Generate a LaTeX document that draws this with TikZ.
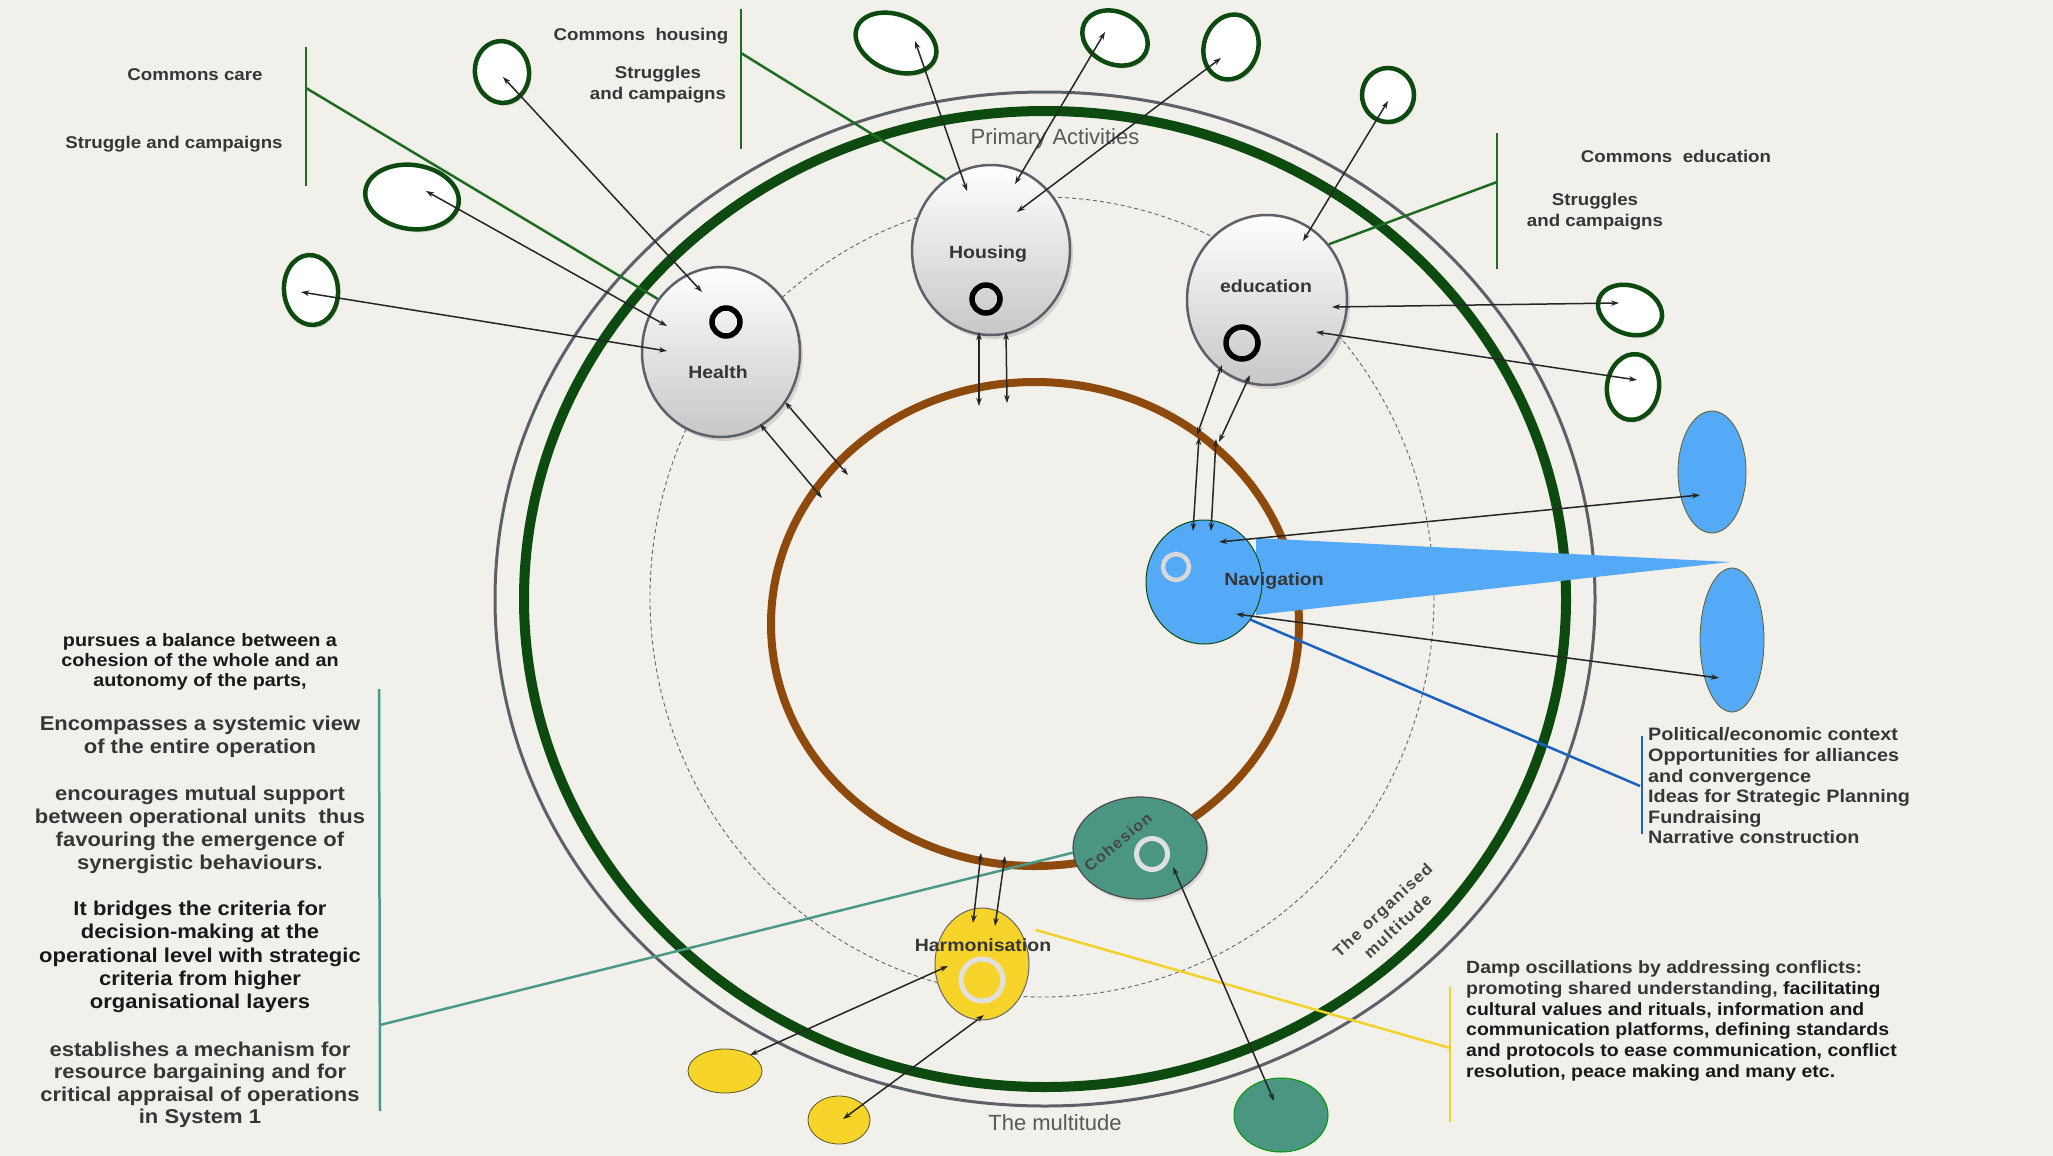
\documentclass[tikz,border=0pt]{standalone}
\usepackage{fontspec}
\setmainfont{Liberation Sans}[FakeStretch=1.1]
\newfontfamily\thinfont{Liberation Sans}
\newfontfamily\spacedfont{Liberation Sans}[FakeStretch=1.05, LetterSpace=8]
\usetikzlibrary{shapes.geometric,arrows.meta,shadows}

\definecolor{paper}{HTML}{F2F0EA}
\definecolor{ringgray}{HTML}{5C6069}
\definecolor{ringgreen}{HTML}{0C4A10}
\definecolor{corebrown}{HTML}{8E4A0C}
\definecolor{commonsgreen}{HTML}{1E6B22}
\definecolor{navblue}{HTML}{55AAF7}
\definecolor{listblue}{HTML}{1A62C0}
\definecolor{cohteal}{HTML}{4A9683}
\definecolor{harmyellow}{HTML}{F6D42A}
\definecolor{linkteal}{HTML}{4A9A88}
\definecolor{linkyellow}{HTML}{F2D22A}
\definecolor{inkgray}{HTML}{363636}

\tikzset{
  bigring/.style={ellipse, inner sep=0pt, outer sep=0pt},
  unit/.style={ellipse, draw=ringgray, line width=2.5pt, top color=white, bottom color=black!22,
    minimum width=158pt, minimum height=170pt, inner sep=0pt,
    drop shadow={opacity=0.25, shadow xshift=3pt, shadow yshift=-4pt}},
  commons/.style={ellipse, draw=ringgreen, line width=4.5pt, fill=white, inner sep=0pt,
    drop shadow={opacity=0.2, shadow xshift=2pt, shadow yshift=-3pt}},
  navsat/.style={ellipse, draw=olive!60!black, line width=0.8pt, fill=navblue, inner sep=0pt},
  harmsat/.style={ellipse, draw=olive!50!black, line width=0.8pt, fill=harmyellow, inner sep=0pt},
  hole/.style={circle, line width=5.5pt, inner sep=0pt},
  unitlabel/.style={font=\bfseries\fontsize{17.7}{20}\selectfont, text=inkgray, inner sep=0pt},
  notetext/.style={font=\bfseries\fontsize{17}{21}\selectfont, text=inkgray, align=center, inner sep=0pt},
  blocktext/.style={font=\bfseries\fontsize{20}{22.5}\selectfont, text=inkgray, align=center, inner sep=0pt},
  thintext/.style={font=\thinfont\fontsize{22}{24}\selectfont, text=black!65, inner sep=0pt},
  link/.style={<->, >={Stealth[length=8pt, width=5.5pt]}, line width=1.5pt, draw=black!85},
  commonsbar/.style={draw=commonsgreen, line width=2.5pt},
}

\begin{document}
\begin{tikzpicture}[x=1pt, y=-1pt]
\useasboundingbox (0,0) rectangle (2053,1156);
\fill[paper] (0,0) rectangle (2053,1156);

% the rings
\node[bigring, draw=ringgray, line width=3pt, minimum width=1100pt, minimum height=1014pt] (multitude) at (1045,599) {};
\node[bigring, draw=ringgreen, line width=10pt, minimum width=1042pt, minimum height=976pt] (organisedring) at (1045,599) {};
\node[bigring, draw=black!60, line width=0.9pt, dash pattern=on 4pt off 3pt, minimum width=784pt, minimum height=800pt] (primaryring) at (1042,597) {};
\node[bigring, draw=corebrown, line width=8pt, minimum width=528pt, minimum height=484pt] (core) at (1035,624) {};

% beam of navigation
\fill[navblue] (1256,538) -- (1730,562) -- (1256,615) -- cycle;

% brackets and leaders
\coordinate (careTop) at (306,47);
\coordinate (careBot) at (306,186);
\coordinate (careKnee) at (306,88);
\coordinate (houseTop) at (741,9);
\coordinate (houseBot) at (741,149);
\coordinate (houseKnee) at (741,53);
\coordinate (eduTop) at (1497,133);
\coordinate (eduBot) at (1497,269);
\coordinate (eduKnee) at (1497,182);
\coordinate (navTop) at (1642,736);
\coordinate (navBot) at (1642,834);
\coordinate (navKnee) at (1640,786);
\coordinate (cohTop) at (379,689);
\coordinate (cohBot) at (380,1111);
\coordinate (cohKnee) at (380,1025);
\coordinate (harmTop) at (1450,987);
\coordinate (harmBot) at (1450,1122);
\coordinate (harmKnee) at (1450,1048);
\coordinate (harmoLink) at (1036,930);

% primary activities
\node[unit] (health) at (721,352) {};
\node[unit] (housing) at (991,250) {};
\node[unit, minimum width=160pt] (education) at (1267,300) {};
\node[hole, draw=black, minimum size=28pt] (healthhole) at (726,322) {};
\node[hole, draw=black, minimum size=28pt] (housinghole) at (986,299) {};
\node[hole, draw=black, minimum size=32pt] (educationhole) at (1242,343) {};

\draw[commonsbar] (careTop) -- (careBot);
\draw[commonsbar] (careKnee) -- (health.140);
\draw[commonsbar] (houseTop) -- (houseBot);
\draw[commonsbar] (houseKnee) -- (housing.123);
\draw[commonsbar] (eduTop) -- (eduBot);
\draw[commonsbar] (eduKnee) -- (education.42);

% navigation, cohesion, harmonisation
\node[ellipse, fill=navblue, draw=ringgreen, line width=1pt, minimum width=116pt, minimum height=124pt, inner sep=0pt] (navigation) at (1204,582) {};
\node[ellipse, fill=cohteal, draw=black!70, line width=1.2pt, minimum width=134pt, minimum height=102pt, inner sep=0pt,
  drop shadow={opacity=0.2, shadow xshift=2pt, shadow yshift=-3pt}] (cohesion) at (1140,848) {};
\node[ellipse, fill=harmyellow, draw=black!60, line width=1pt, minimum width=94pt, minimum height=112pt, inner sep=0pt] (harmonisation) at (982,964) {};
\node[hole, draw=black!15, line width=4.5pt, minimum size=26pt] (navigationhole) at (1176,567) {};
\node[hole, draw=black!12, line width=5pt, minimum size=31pt] (cohesionhole) at (1152,854) {};
\node[hole, draw=black!12, line width=5pt, minimum size=42pt] (harmonisationhole) at (982,980) {};

\draw[draw=listblue, line width=2.5pt] (navTop) -- (navBot);
\draw[draw=listblue, line width=2.5pt] (navKnee) -- (navigation.-39);
\draw[draw=linkteal, line width=2.5pt] (cohTop) -- (cohBot);
\draw[draw=linkteal, line width=2.5pt] (cohKnee) -- (cohesion.184);
\draw[draw=linkyellow, line width=2.5pt] (harmTop) -- (harmBot);
\draw[draw=linkyellow, line width=2.5pt] (harmKnee) -- (harmoLink);

% satellites
\node[commons, minimum width=54pt, minimum height=62pt, rotate=8] (careA) at (502,72) {};
\node[commons, minimum width=94pt, minimum height=64pt, rotate=-8] (careB) at (412,197) {};
\node[commons, minimum width=54pt, minimum height=70pt, rotate=5] (careC) at (311,290) {};
\node[commons, minimum width=84pt, minimum height=56pt, rotate=-22] (housingA) at (896,43) {};
\node[commons, minimum width=68pt, minimum height=52pt, rotate=-25] (housingB) at (1115,38) {};
\node[commons, minimum width=54pt, minimum height=66pt, rotate=-18] (housingC) at (1231,47) {};
\node[commons, minimum width=52pt, minimum height=54pt] (educationA) at (1388,95) {};
\node[commons, minimum width=66pt, minimum height=48pt, rotate=-20] (educationB) at (1630,310) {};
\node[commons, minimum width=52pt, minimum height=66pt, rotate=-8] (educationC) at (1633,387) {};
\node[navsat, minimum width=68pt, minimum height=122pt] (navUp) at (1712,472) {};
\node[navsat, minimum width=64pt, minimum height=144pt] (navDown) at (1732,640) {};
\node[harmsat, minimum width=74pt, minimum height=44pt] (harmA) at (725,1071) {};
\node[harmsat, minimum width=62pt, minimum height=48pt] (harmB) at (839,1120) {};
\node[ellipse, fill=cohteal, draw=green!60!black, line width=1pt, minimum width=94pt, minimum height=74pt, inner sep=0pt] (cohSat) at (1281,1115) {};

% labels
\node[unitlabel] (healthtext) at (718,372) {Health};
\node[unitlabel] (housingtext) at (988,254) {Housing};
\node[unitlabel] (educationtext) at (1266,286) {education};
\node[unitlabel] (navigationtext) at (1274,581) {Navigation};
\node[unitlabel] (harmonisationtext) at (983,945) {Harmonisation};
\node[unitlabel, font=\spacedfont\bfseries\fontsize{15.5}{20}\selectfont, text=black!72, rotate=40] (cohesiontext) at (1118,842) {Cohesion};
\node[blocktext, font=\spacedfont\bfseries\fontsize{16}{22}\selectfont, text=black!72, rotate=43] (organisedtext) at (1390,918) {The organised\\multitude};
\node[thintext] (primarytext) at (1055,139) {Primary Activities};
\node[thintext] (multitudetext) at (1055,1123) {The multitude};

\node[notetext] (carelabel) at (195,75) {Commons care};
\node[notetext] (carestruggle) at (174,144) {Struggle and campaigns};
\node[notetext] (houselabel) at (641,36) {Commons\ \ housing};
\node[notetext] (housestruggle) at (658,85) {Struggles\\and campaigns};
\node[notetext] (edulabel) at (1676,156) {Commons\ \ education};
\node[notetext] (edustruggle) at (1595,212) {Struggles\\and campaigns};

\node[blocktext, font=\bfseries\fontsize{18}{20}\selectfont, text=black!90] (balance) at (200,662) {pursues a balance between a\\cohesion of the whole and an\\autonomy of the parts,};
\node[blocktext] (systemic) at (200,737) {Encompasses a systemic view\\of the entire operation};
\node[blocktext, font=\bfseries\fontsize{20}{23}\selectfont] (support) at (200,830) {encourages mutual support\\between operational units\ \ thus\\favouring the emergence of\\synergistic behaviours.};
\node[blocktext, font=\bfseries\fontsize{20}{23.2}\selectfont, text=black!90] (bridges) at (200,957) {It bridges the criteria for\\decision-making at the\\operational level with strategic\\criteria from higher\\organisational layers};
\node[blocktext] (bargain) at (200,1085) {establishes a mechanism for\\resource bargaining and for\\critical appraisal of operations\\in System 1};

\node[blocktext, align=left, anchor=west, font=\bfseries\fontsize{18}{20.6}\selectfont] (context) at (1648,786) {Political/economic context\\Opportunities for alliances\\and convergence\\Ideas for Strategic Planning\\Fundraising\\Narrative construction};
\node[blocktext, align=left, anchor=west, font=\bfseries\fontsize{17.7}{20.8}\selectfont, text=black!90] (damp) at (1466,1021) {\textcolor{inkgray}{Damp oscillations by addressing conflicts:}\\\textcolor{inkgray}{promoting shared understanding,} facilitating\\cultural values and rituals, information and\\communication platforms, defining standards\\and protocols to ease communication, conflict\\resolution, peace making and many etc.};

% health
\draw[link] ([shift={(1,5)}]careA.center) -- ([shift={(-19,-60)}]health.center);
\draw[link] ([shift={(14,-6)}]careB.center) -- ([shift={(-54,-26)}]health.center);
\draw[link] ([shift={(-10,2)}]careC.center) -- ([shift={(-54,-1)}]health.center);
\draw[link] ([shift={(39,72)}]health.center) -- ([shift={(-213,-126)}]core.center);
\draw[link] ([shift={(64,50)}]health.center) -- ([shift={(-187,-149)}]core.center);
% housing
\draw[link] ([shift={(19,-2)}]housingA.center) -- ([shift={(-24,-59)}]housing.center);
\draw[link] ([shift={(-10,-6)}]housingB.center) -- ([shift={(24,-66)}]housing.center);
\draw[link] ([shift={(-10,11)}]housingC.center) -- ([shift={(26,-38)}]housing.center);
\draw[link] ([shift={(-12,82)}]housing.center) -- ([shift={(-56,-218)}]core.center);
\draw[link] ([shift={(15,82)}]housing.center) -- ([shift={(-28,-221)}]core.center);
% education
\draw[link] ([shift={(0,6)}]educationA.center) -- ([shift={(36,-59)}]education.center);
\draw[link] ([shift={(65,7)}]education.center) -- ([shift={(-11,-7)}]educationB.center);
\draw[link] ([shift={(49,32)}]education.center) -- ([shift={(4,-7)}]educationC.center);
\draw[link] ([shift={(-45,65)}]education.center) -- ([shift={(162,-189)}]core.center);
\draw[link] ([shift={(-17,75)}]education.center) -- ([shift={(184,-182)}]core.center);
\draw[link] ([shift={(164,-187)}]core.center) -- ([shift={(-11,-51)}]navigation.center);
\draw[link] ([shift={(181,-185)}]core.center) -- ([shift={(7,-51)}]navigation.center);
% navigation
\draw[link] ([shift={(15,-40)}]navigation.center) -- ([shift={(-12,23)}]navUp.center);
\draw[link] ([shift={(32,32)}]navigation.center) -- ([shift={(-13,38)}]navDown.center);
% cohesion
\draw[link] ([shift={(33,19)}]cohesion.center) -- ([shift={(-7,-14)}]cohSat.center);
% harmonisation
\draw[link] ([shift={(-54,229)}]core.center) -- ([shift={(-9,-41)}]harmonisation.center);
\draw[link] ([shift={(-30,232)}]core.center) -- ([shift={(13,-38)}]harmonisation.center);
\draw[link] ([shift={(-34,2)}]harmonisation.center) -- ([shift={(25,-16)}]harmA.center);
\draw[link] ([shift={(2,51)}]harmonisation.center) -- ([shift={(4,-1)}]harmB.center);
\end{tikzpicture}
\end{document}
